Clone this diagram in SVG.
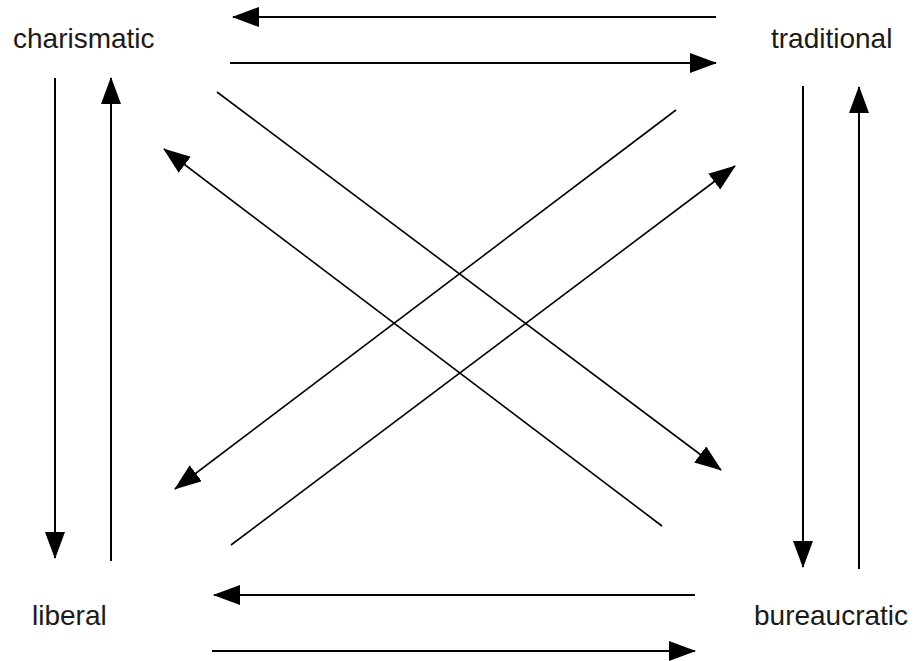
<svg xmlns="http://www.w3.org/2000/svg" width="914" height="661" viewBox="0 0 914 661">
<style>
  .lbl { font-family: "Liberation Sans", Arial, sans-serif; font-size: 28px; fill: #1a1a1a; }
  .c { stroke: #000; stroke-width: 2; fill: none; marker-end: url(#ah); }
  .d { stroke-width: 1.6; }
</style>
<defs>
  <marker id="ah" markerUnits="userSpaceOnUse" markerWidth="30" markerHeight="24" refX="26" refY="10" orient="auto">
    <path d="M0,0 L27,10 L0,20 z" fill="#000"/>
  </marker>
</defs>
<rect width="914" height="661" fill="#fff"/>
<g id="node-charismatic"><text class="lbl" x="13" y="48">charismatic</text></g>
<g id="node-traditional"><text class="lbl" x="771" y="48">traditional</text></g>
<g id="node-liberal"><text class="lbl" x="32" y="625">liberal</text></g>
<g id="node-bureaucratic"><text class="lbl" x="754" y="625">bureaucratic</text></g>
<g id="connectors">
  <line class="c" x1="716" y1="17" x2="233" y2="17"/>
  <line class="c" x1="230" y1="63" x2="716" y2="63"/>
  <line class="c" x1="55" y1="78" x2="55" y2="558"/>
  <line class="c" x1="111" y1="561" x2="111" y2="78"/>
  <line class="c" x1="803" y1="86" x2="803" y2="567"/>
  <line class="c" x1="859" y1="569" x2="859" y2="87"/>
  <line class="c" x1="695" y1="595" x2="214" y2="595"/>
  <line class="c" x1="212" y1="651" x2="695" y2="651"/>
  <line class="c d" x1="217" y1="92" x2="721" y2="470"/>
  <line class="c d" x1="662" y1="526" x2="164" y2="149"/>
  <line class="c d" x1="676" y1="110" x2="175" y2="489"/>
  <line class="c d" x1="231" y1="545" x2="735" y2="166"/>
</g>
</svg>
